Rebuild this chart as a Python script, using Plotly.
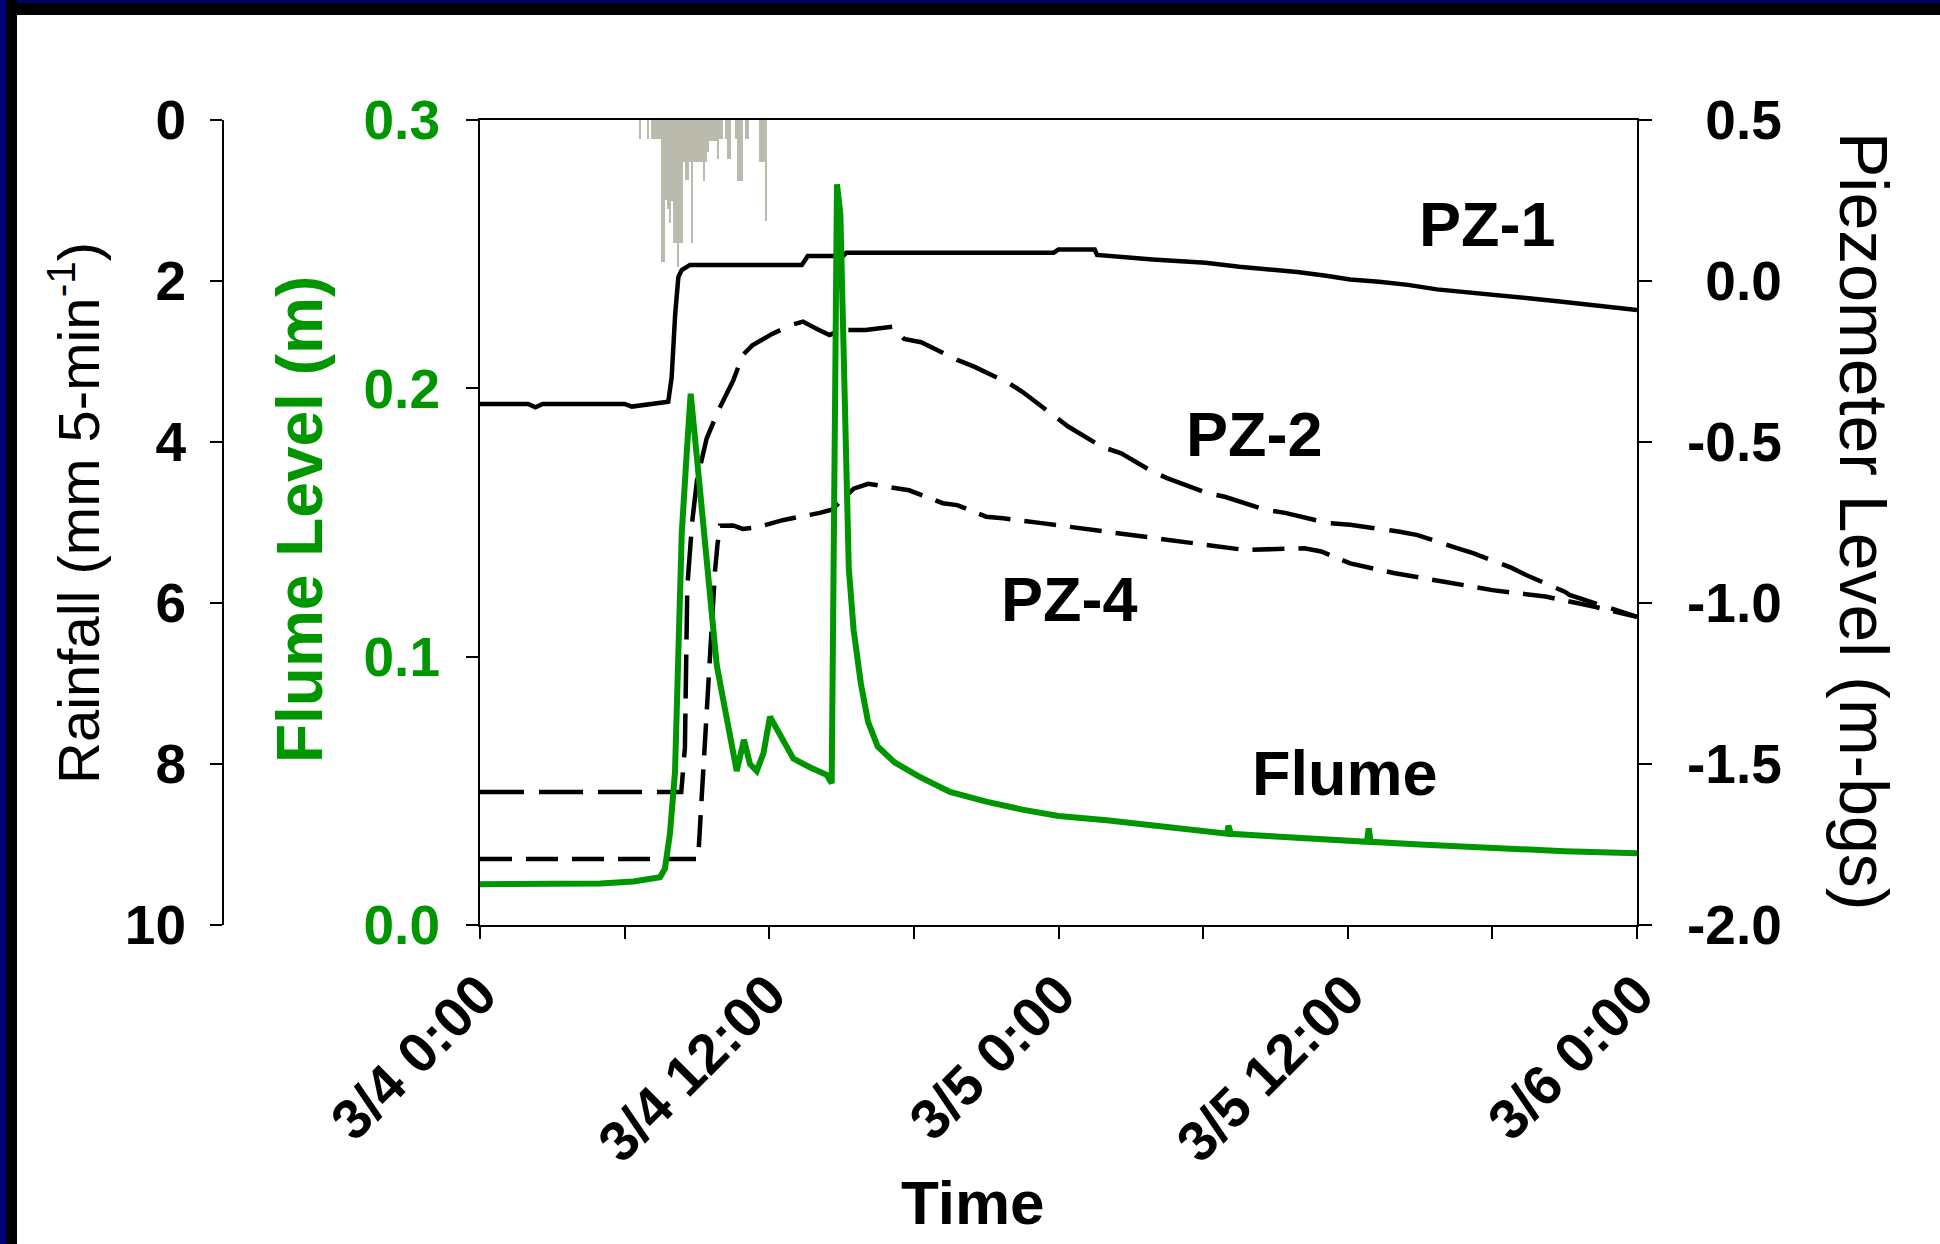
import plotly.graph_objects as go
import pandas as pd

# ---------------- data ----------------
BASE = pd.Timestamp("2004-03-04 00:00")

# rainfall, 5-min totals (mm) starting 3/4 06:35
rain_start_hour = 6 + 35 / 60
rain_interval_min = 5
rain_mm = [0.24, 0, 0, 0, 0.24, 0, 0.24, 0.24, 0.24, 0.24, 0.24, 1.77, 1.77, 0.99, 1.1, 1.28,
           1.0, 1.53, 1.53, 1.82, 1.53, 1.53, 0.52, 0.75, 0.75, 0.52, 1.53, 0.52, 0.52, 0.52,
           0.52, 0.52, 0.76, 0.52, 0.40, 0.26, 0.26, 0.26, 0.26, 0.49, 0.24, 0.24, 0, 0.24,
           0.49, 0.49, 0, 0, 0.24, 0.76, 0.76, 0.76, 0, 0.24, 0.24, 0, 0, 0, 0, 0, 0.52, 0.52,
           0.52, 1.26]

# flume level (m)
flume_h = [0, 2, 4, 5, 6.36, 7.0, 7.47, 7.67, 7.88, 8.09, 8.23, 8.37, 8.57, 8.74, 8.99, 9.26,
           9.54, 9.82, 10.1, 10.4, 10.65, 10.95, 11.2, 11.48, 11.76, 12.03, 12.45, 13.0, 13.7,
           14.38, 14.59, 14.72, 14.81, 14.95, 15.14, 15.2, 15.3, 15.5, 15.8, 16.1, 16.5, 17.2,
           18.2, 19.5, 21.0, 22.5, 24.0, 26.0, 28.0, 30.0, 31.0, 31.05, 31.15, 33.0, 35.0,
           36.8, 36.87, 36.95, 39.0, 42.0, 45.0, 48.0]
flume_m = [0.0152, 0.0152, 0.0153, 0.0155, 0.0162, 0.017, 0.0178, 0.021, 0.034, 0.057, 0.0966,
           0.146, 0.175, 0.198, 0.175, 0.149, 0.123, 0.097, 0.0835, 0.0704, 0.0574, 0.069,
           0.060, 0.0574, 0.064, 0.0776, 0.0704, 0.062, 0.0587, 0.056, 0.0528, 0.20, 0.276,
           0.265, 0.192, 0.149, 0.133, 0.110, 0.090, 0.0757, 0.0665, 0.0606, 0.0554, 0.0496,
           0.046, 0.043, 0.0406, 0.039, 0.037, 0.0355, 0.034, 0.037, 0.034, 0.033, 0.032,
           0.031, 0.036, 0.031, 0.030, 0.0285, 0.0275, 0.0267]

# piezometer levels (m-bgs)
pz1_h = [0, 2.0, 2.3, 2.6, 6.0, 6.3, 7.81, 7.95, 8.1, 8.23, 8.37, 8.71, 13.35, 13.6, 15.07,
         15.2, 23.8, 24.0, 25.5, 25.6, 27.9, 30.1, 31.5, 32.9, 33.9, 35.1, 36.1, 37.3, 38.5,
         39.7, 40.8, 42.2, 43.6, 44.8, 46.0, 48.0]
pz1_v = [-0.382, -0.382, -0.392, -0.382, -0.382, -0.39, -0.375, -0.30, -0.10, 0.013, 0.034,
         0.05, 0.05, 0.078, 0.078, 0.088, 0.088, 0.098, 0.098, 0.081, 0.067, 0.057, 0.044,
         0.036, 0.028, 0.016, 0.005, -0.002, -0.012, -0.026, -0.033, -0.043, -0.054, -0.064,
         -0.075, -0.09]

pz2_h = [0, 8.35, 8.5, 8.6, 8.8, 9.0, 9.4, 9.9, 10.5, 10.9, 11.3, 12.1, 12.9, 13.4, 14.0,
         14.5, 15.0, 16.0, 17.1, 17.6, 18.3, 19.8, 20.5, 22.0, 22.5, 23.9, 24.4, 25.8, 26.6,
         27.9, 28.5, 30.2, 30.9, 32.6, 33.4, 35.2, 36.1, 38.1, 38.9, 40.5, 41.2, 42.8, 43.4,
         45.0, 45.2, 48.0]
pz2_v = [-1.587, -1.587, -1.45, -0.95, -0.75, -0.62, -0.49, -0.40, -0.31, -0.23, -0.20,
         -0.165, -0.137, -0.126, -0.15, -0.168, -0.152, -0.152, -0.142, -0.18, -0.19, -0.245,
         -0.266, -0.32, -0.344, -0.421, -0.452, -0.515, -0.535, -0.592, -0.612, -0.659,
         -0.67, -0.711, -0.72, -0.752, -0.757, -0.778, -0.789, -0.829, -0.845, -0.891,
         -0.913, -0.965, -0.975, -1.043]

pz4_h = [0, 9.05, 9.2, 9.5, 9.75, 9.85, 9.96, 10.5, 10.9, 11.5, 12.2, 12.6, 14.1, 14.6, 15.5,
         16.1, 17.4, 17.8, 19.2, 19.8, 21.0, 21.7, 23.3, 25.4, 27.3, 29.5, 31.7, 34.2, 34.9,
         36.1, 37.9, 40.0, 42.0, 44.2, 46.2, 48.0]
pz4_v = [-1.795, -1.795, -1.6, -1.2, -0.90, -0.82, -0.76, -0.759, -0.77, -0.765, -0.75,
         -0.742, -0.72, -0.71, -0.645, -0.63, -0.645, -0.65, -0.69, -0.696, -0.732, -0.737,
         -0.752, -0.773, -0.789, -0.814, -0.835, -0.83, -0.84, -0.877, -0.907, -0.934, -0.96,
         -0.98, -1.011, -1.043]

x_tick_hours = [0, 12, 24, 36, 48]
x_tick_text = ["3/4 0:00", "3/4 12:00", "3/5 0:00", "3/5 12:00", "3/6 0:00"]
x_minor_hours = [6, 18, 30, 42]
rain_ticks = [0, 2, 4, 6, 8, 10]
flume_ticks = [0.0, 0.1, 0.2, 0.3]
flume_tick_text = ["0.0", "0.1", "0.2", "0.3"]
pz_ticks = [-2.0, -1.5, -1.0, -0.5, 0.0, 0.5]
pz_tick_text = ["-2.0", "-1.5", "-1.0", "-0.5", "0.0", "0.5"]

# ---------------- helpers ----------------
def to_time(hours):
    return [BASE + pd.Timedelta(hours=h) for h in hours]

rain_x = [BASE + pd.Timedelta(hours=rain_start_hour) + pd.Timedelta(minutes=rain_interval_min * k + rain_interval_min / 2)
          for k in range(len(rain_mm))]

GREEN = "#009600"
RAIN_COLOR = "#bbbbad"
FONT = "Liberation Sans, Arial, sans-serif"

W, H = 1940, 1244
ML, MR, MT, MB = 150, 150, 120, 319
PW, PH = W - ML - MR, H - MT - MB

def px(xp):
    return (xp - ML) / PW

def py(yp):
    return (H - MB - yp) / PH

fig = go.Figure()
fig.add_trace(go.Bar(x=rain_x, y=rain_mm, yaxis="y", xaxis="x", width=rain_interval_min * 60 * 1000,
                     marker=dict(color=RAIN_COLOR, line=dict(width=0)), name="Rainfall"))
fig.add_trace(go.Scatter(x=to_time(pz1_h), y=pz1_v, yaxis="y2", mode="lines",
                         line=dict(color="black", width=4.5), name="PZ-1"))
fig.add_trace(go.Scatter(x=to_time(pz2_h), y=pz2_v, yaxis="y2", mode="lines",
                         line=dict(color="black", width=4.5, dash="44px,15px"), name="PZ-2"))
fig.add_trace(go.Scatter(x=to_time(pz4_h), y=pz4_v, yaxis="y2", mode="lines",
                         line=dict(color="black", width=4.5, dash="32px,14px"), name="PZ-4"))
fig.add_trace(go.Scatter(x=to_time(flume_h), y=flume_m, yaxis="y3", mode="lines",
                         line=dict(color=GREEN, width=6), name="Flume"))

tickfont_black = dict(family=FONT, size=55, color="black", weight=700)

# right-aligned labels on the right axis: pad non-negative values with a 1/3-em space (width of "-")
pz_tick_labels = [t if t.startswith("-") else "\u2004" + t for t in pz_tick_text]

fig.update_layout(
    width=W, height=H, autosize=False,
    margin=dict(l=ML, r=MR, t=MT, b=MB, pad=0, autoexpand=False),
    paper_bgcolor="white", plot_bgcolor="white",
    showlegend=False, bargap=0,
    xaxis=dict(domain=[px(480), px(1637)], anchor="y", type="date", automargin=False,
               range=[BASE, BASE + pd.Timedelta(hours=48)],
               tickvals=to_time(x_tick_hours), ticktext=x_tick_text, tickangle=-45,
               ticks="outside", ticklen=12, tickwidth=2, tickcolor="black",
               minor=dict(tickvals=to_time(x_minor_hours), ticks="outside", ticklen=12,
                          tickwidth=2, tickcolor="black", showgrid=False),
               showline=True, linewidth=2, linecolor="black", mirror=True,
               showgrid=False, zeroline=False,
               tickfont=dict(family=FONT, size=56, color="black", weight=700)),
    yaxis=dict(range=[10, 0], anchor="free", position=px(223), side="left", automargin=False,
               tickvals=rain_ticks, ticks="outside", ticklen=12, tickwidth=2, tickcolor="black",
               showline=True, linewidth=2, linecolor="black", showgrid=False, zeroline=False,
               tickfont=tickfont_black, ticklabelstandoff=13),
    yaxis2=dict(range=[-2.0, 0.5], overlaying="y", anchor="x", side="right", automargin=False,
                tickvals=pz_ticks, ticktext=pz_tick_labels,
                ticks="outside", ticklen=13, tickwidth=2, tickcolor="black",
                showline=True, linewidth=2, linecolor="black", showgrid=False, zeroline=False,
                tickfont=tickfont_black, ticklabelstandoff=24),
    yaxis3=dict(range=[0, 0.3], overlaying="y", anchor="x", side="left", automargin=False,
                tickvals=flume_ticks, ticktext=flume_tick_text,
                ticks="outside", ticklen=12, tickwidth=2, tickcolor="black",
                showline=True, linewidth=2, linecolor="black", showgrid=False, zeroline=False,
                tickfont=dict(family=FONT, size=55, color=GREEN, weight=700), ticklabelstandoff=15),
)

# frame of the slide (top and left dark border)
shapes = [
    dict(type="rect", xref="paper", yref="paper", x0=px(0), x1=px(W), y0=py(0), y1=py(15),
         fillcolor="black", line=dict(width=0), layer="above"),
    dict(type="rect", xref="paper", yref="paper", x0=px(0), x1=px(W), y0=py(0), y1=py(3),
         fillcolor="#000066", line=dict(width=0), layer="above"),
    dict(type="rect", xref="paper", yref="paper", x0=px(0), x1=px(17), y0=py(0), y1=py(H),
         fillcolor="black", line=dict(width=0), layer="above"),
    dict(type="rect", xref="paper", yref="paper", x0=px(0), x1=px(6), y0=py(0), y1=py(H),
         fillcolor="#00007a", line=dict(width=0), layer="above"),
]
fig.update_layout(shapes=shapes)

ann = []
def add_text(text, xp, yp, size, bold=False, color="black", angle=0):
    ann.append(dict(text=text, x=px(xp), y=py(yp), xref="paper", yref="paper",
                    xanchor="center", yanchor="middle", showarrow=False, textangle=angle,
                    font=dict(family=FONT, size=size, color=color, weight=700 if bold else 400)))

add_text("Rainfall (mm 5-min<sup>-1</sup>)", 74, 513, 58, angle=-90)
add_text("Flume Level (m)", 300, 520, 64, bold=True, color=GREEN, angle=-90)
add_text("Piezometer Level (m-bgs)", 1864, 521, 68, angle=90)
add_text("Time", 973, 1202, 62, bold=True)
add_text("PZ-1", 1487, 224, 63, bold=True)
add_text("PZ-2", 1254, 434, 63, bold=True)
add_text("PZ-4", 1069, 599, 63, bold=True)
add_text("Flume", 1345, 773, 63, bold=True)
fig.update_layout(annotations=ann)

fig.write_html("out.html")
